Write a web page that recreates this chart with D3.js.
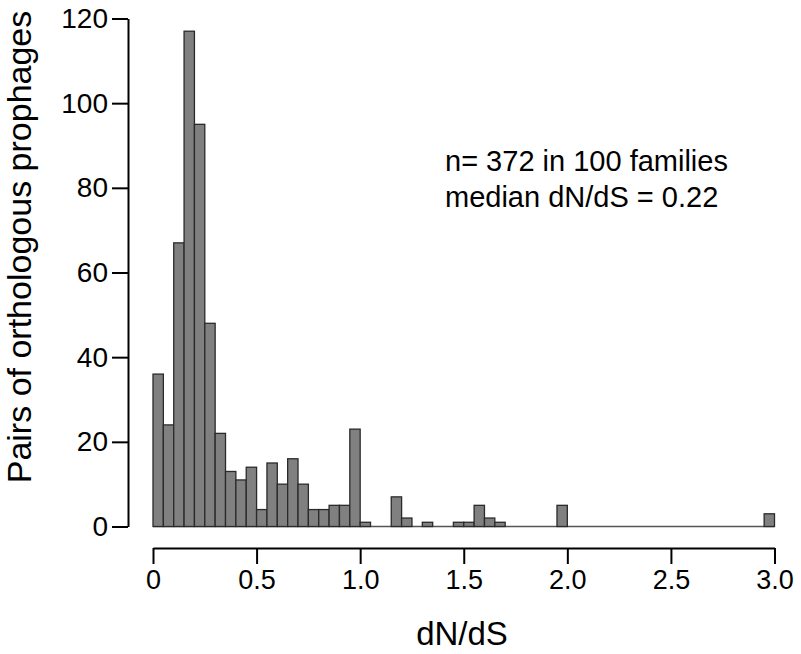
<!DOCTYPE html>
<html>
<head>
<meta charset="utf-8">
<script src="https://cdn.jsdelivr.net/npm/d3@7"></script>
<style>
  html, body { margin: 0; padding: 0; background: #fff; }
  svg { display: block; font-family: "Liberation Sans", Arial, sans-serif; }
</style>
</head>
<body>
<svg id="chart" width="801" height="654"></svg>
<script>
// Histogram of dN/dS, bins of width 0.05 from 0 to 3.0
const binStarts = d3.range(60).map(i => +(i * 0.05).toFixed(2));
const binWidth = 0.05;
const counts = [
  36, 24, 67, 117, 95, 48, 22, 13, 11, 14,
  4, 15, 10, 16, 10, 4, 4, 5, 5, 23,
  1, 0, 0, 7, 2, 0, 1, 0, 0, 1,
  1, 5, 2, 1, 0, 0, 0, 0, 0, 5,
  0, 0, 0, 0, 0, 0, 0, 0, 0, 0,
  0, 0, 0, 0, 0, 0, 0, 0, 0, 3
];
const xTicks = [0, 0.5, 1.0, 1.5, 2.0, 2.5, 3.0];
const xTickLabels = ["0", "0.5", "1.0", "1.5", "2.0", "2.5", "3.0"];
const yTicks = [0, 20, 40, 60, 80, 100, 120];
const annotation = ["n= 372 in 100 families", "median dN/dS = 0.22"];
const xTitle = "dN/dS";
const yTitle = "Pairs of orthologous prophages";

const svg = d3.select("#chart");
const x = d3.scaleLinear().domain([0, 3]).range([153, 774.5]);
const y = d3.scaleLinear().domain([0, 120]).range([526.5, 18.5]);

// bars
const bars = binStarts.map((s, i) => ({ x0: s, x1: s + binWidth, n: counts[i] }));
svg.append("line")
  .attr("x1", x(0)).attr("x2", x(3))
  .attr("y1", y(0)).attr("y2", y(0))
  .attr("stroke", "#555").attr("stroke-width", 1.3);
svg.append("g").selectAll("rect")
  .data(bars.filter(d => d.n > 0))
  .join("rect")
  .attr("x", d => x(d.x0))
  .attr("y", d => y(d.n))
  .attr("width", d => x(d.x1) - x(d.x0))
  .attr("height", d => y(0) - y(d.n))
  .attr("fill", "#808080")
  .attr("stroke", "#2a2a2a")
  .attr("stroke-width", 1.3);

// x axis
const xAxis = d3.axisBottom(x)
  .tickValues(xTicks)
  .tickFormat((d, i) => xTickLabels[i])
  .tickSizeInner(16).tickSizeOuter(0).tickPadding(6);
const gx = svg.append("g").attr("transform", "translate(0,548)").call(xAxis);
gx.select(".domain").attr("stroke", "#000").attr("stroke-width", 2);
gx.selectAll(".tick line").attr("stroke", "#000").attr("stroke-width", 2);
gx.selectAll(".tick text").attr("font-size", 27).attr("fill", "#000")
  .attr("font-family", "Liberation Sans, Arial, sans-serif");

// y axis
const yAxis = d3.axisLeft(y)
  .tickValues(yTicks)
  .tickSizeInner(16).tickSizeOuter(0).tickPadding(4);
const gy = svg.append("g").attr("transform", "translate(128,0)").call(yAxis);
gy.select(".domain").attr("stroke", "#000").attr("stroke-width", 2);
gy.selectAll(".tick line").attr("stroke", "#000").attr("stroke-width", 2);
gy.selectAll(".tick text").attr("font-size", 28).attr("fill", "#000")
  .attr("font-family", "Liberation Sans, Arial, sans-serif");

// titles
svg.append("text")
  .attr("x", 462).attr("y", 645)
  .attr("text-anchor", "middle")
  .attr("font-size", 33)
  .text(xTitle);
svg.append("text")
  .attr("transform", "translate(31,247) rotate(-90)")
  .attr("text-anchor", "middle")
  .attr("font-size", 34)
  .text(yTitle);

// annotation
svg.append("g").selectAll("text")
  .data(annotation)
  .join("text")
  .attr("x", 445)
  .attr("y", (d, i) => 171 + i * 36)
  .attr("font-size", 29)
  .text(d => d);
</script>
</body>
</html>
